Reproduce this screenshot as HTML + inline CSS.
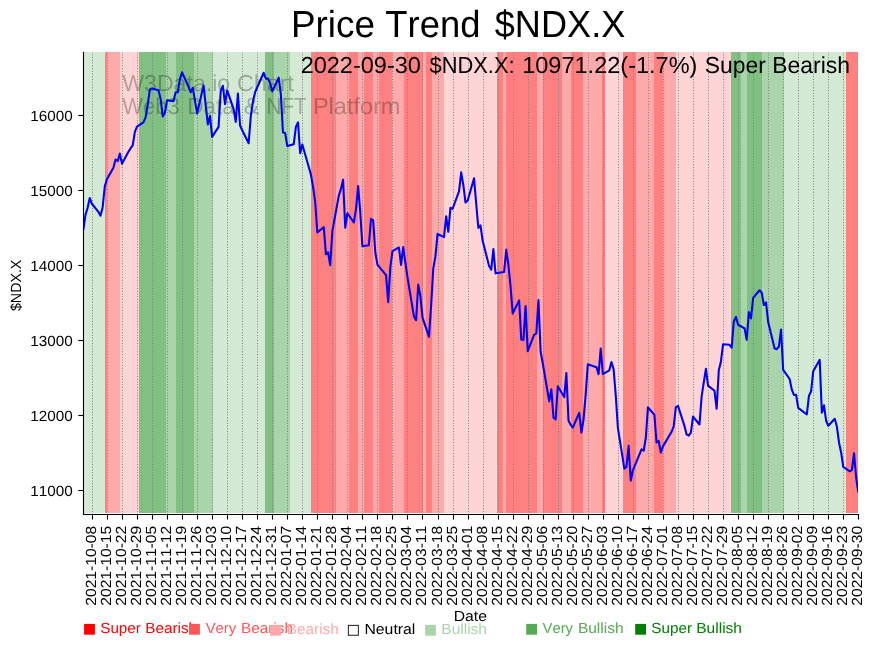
<!DOCTYPE html>
<html><head><meta charset="utf-8"><title>Price Trend $NDX.X</title>
<style>html,body{margin:0;padding:0;background:#fff}svg{display:block;will-change:transform}text{font-family:"Liberation Sans",sans-serif;font-kerning:none;white-space:pre;text-rendering:geometricPrecision}</style>
</head><body>
<svg width="875" height="646" viewBox="0 0 875 646">
<defs><clipPath id="ax"><rect x="83.5" y="52.0" width="774.5" height="462.50"/></clipPath></defs>
<rect width="875" height="646" fill="#fff"/>
<g>
<rect x="84" y="52" width="21" height="461" fill="#d4ead4"/>
<rect x="105" y="52" width="2" height="461" fill="#ff8080"/>
<rect x="107" y="52" width="13" height="461" fill="#ffaaaa"/>
<rect x="120" y="52" width="19" height="461" fill="#ffd4d4"/>
<rect x="139" y="52" width="27" height="461" fill="#80c080"/>
<rect x="166" y="52" width="10" height="461" fill="#aad4aa"/>
<rect x="176" y="52" width="18" height="461" fill="#80c080"/>
<rect x="194" y="52" width="19" height="461" fill="#aad4aa"/>
<rect x="213" y="52" width="52" height="461" fill="#d4ead4"/>
<rect x="265" y="52" width="9" height="461" fill="#80c080"/>
<rect x="274" y="52" width="16" height="461" fill="#aad4aa"/>
<rect x="290" y="52" width="21" height="461" fill="#d4ead4"/>
<rect x="311" y="52" width="25" height="461" fill="#ff8080"/>
<rect x="336" y="52" width="13" height="461" fill="#ffaaaa"/>
<rect x="349" y="52" width="9" height="461" fill="#ff8080"/>
<rect x="358" y="52" width="6" height="461" fill="#ffaaaa"/>
<rect x="364" y="52" width="9" height="461" fill="#ff8080"/>
<rect x="373" y="52" width="6" height="461" fill="#ffaaaa"/>
<rect x="379" y="52" width="13" height="461" fill="#ff8080"/>
<rect x="392" y="52" width="12" height="461" fill="#ffaaaa"/>
<rect x="404" y="52" width="19" height="461" fill="#ff8080"/>
<rect x="423" y="52" width="3" height="461" fill="#ffaaaa"/>
<rect x="426" y="52" width="6" height="461" fill="#ff8080"/>
<rect x="432" y="52" width="12" height="461" fill="#ffaaaa"/>
<rect x="444" y="52" width="53" height="461" fill="#ffd4d4"/>
<rect x="497" y="52" width="6" height="461" fill="#ff8080"/>
<rect x="503" y="52" width="3" height="461" fill="#ffaaaa"/>
<rect x="506" y="52" width="31" height="461" fill="#ff8080"/>
<rect x="537" y="52" width="6" height="461" fill="#ffaaaa"/>
<rect x="543" y="52" width="19" height="461" fill="#ff8080"/>
<rect x="562" y="52" width="9" height="461" fill="#ffaaaa"/>
<rect x="571" y="52" width="12" height="461" fill="#ff8080"/>
<rect x="583" y="52" width="19" height="461" fill="#ffaaaa"/>
<rect x="602" y="52" width="3" height="461" fill="#ff8080"/>
<rect x="605" y="52" width="18" height="461" fill="#ffd4d4"/>
<rect x="623" y="52" width="13" height="461" fill="#ff8080"/>
<rect x="636" y="52" width="18" height="461" fill="#ffaaaa"/>
<rect x="654" y="52" width="9" height="461" fill="#ff8080"/>
<rect x="663" y="52" width="13" height="461" fill="#ffaaaa"/>
<rect x="676" y="52" width="55" height="461" fill="#ffd4d4"/>
<rect x="731" y="52" width="10" height="461" fill="#80c080"/>
<rect x="741" y="52" width="6" height="461" fill="#aad4aa"/>
<rect x="747" y="52" width="15" height="461" fill="#80c080"/>
<rect x="762" y="52" width="22" height="461" fill="#aad4aa"/>
<rect x="784" y="52" width="62" height="461" fill="#d4ead4"/>
<rect x="846" y="52" width="12" height="461" fill="#ff8080"/>
</g>
<text transform="translate(122.19,91.00) scale(1.0010,1)" font-size="23.111" fill="#000" fill-opacity="0.27">W3Data.io </text>
<text transform="translate(236.96,91.00) scale(1.0075,1)" font-size="23.111" fill="#000" fill-opacity="0.27">Chart</text>
<text transform="translate(122.30,114.00) scale(0.9503,1)" font-size="23.111" fill="#000" fill-opacity="0.27">Web3 </text>
<text transform="translate(187.19,114.00) scale(0.9762,1)" font-size="23.111" fill="#000" fill-opacity="0.27">Data </text>
<text transform="translate(243.86,114.00) scale(1.0036,1)" font-size="23.111" fill="#000" fill-opacity="0.27">&amp; </text>
<text transform="translate(266.58,114.00) scale(0.8929,1)" font-size="23.111" fill="#000" fill-opacity="0.27">NFT </text>
<text transform="translate(312.90,114.00) scale(1.0172,1)" font-size="23.111" fill="#000" fill-opacity="0.27">Platform</text>
<g clip-path="url(#ax)">
<g stroke="#808080" stroke-width="1.04" stroke-dasharray="1.12 1.63" fill="none">
<line x1="92.5" y1="514.5" x2="92.5" y2="52.0"/>
<line x1="107.5" y1="514.5" x2="107.5" y2="52.0"/>
<line x1="122.5" y1="514.5" x2="122.5" y2="52.0"/>
<line x1="137.5" y1="514.5" x2="137.5" y2="52.0"/>
<line x1="152.5" y1="514.5" x2="152.5" y2="52.0"/>
<line x1="167.5" y1="514.5" x2="167.5" y2="52.0"/>
<line x1="182.5" y1="514.5" x2="182.5" y2="52.0"/>
<line x1="197.5" y1="514.5" x2="197.5" y2="52.0"/>
<line x1="212.5" y1="514.5" x2="212.5" y2="52.0"/>
<line x1="227.5" y1="514.5" x2="227.5" y2="52.0"/>
<line x1="242.5" y1="514.5" x2="242.5" y2="52.0"/>
<line x1="257.5" y1="514.5" x2="257.5" y2="52.0"/>
<line x1="272.5" y1="514.5" x2="272.5" y2="52.0"/>
<line x1="287.5" y1="514.5" x2="287.5" y2="52.0"/>
<line x1="302.5" y1="514.5" x2="302.5" y2="52.0"/>
<line x1="317.5" y1="514.5" x2="317.5" y2="52.0"/>
<line x1="332.5" y1="514.5" x2="332.5" y2="52.0"/>
<line x1="347.5" y1="514.5" x2="347.5" y2="52.0"/>
<line x1="362.5" y1="514.5" x2="362.5" y2="52.0"/>
<line x1="377.5" y1="514.5" x2="377.5" y2="52.0"/>
<line x1="392.5" y1="514.5" x2="392.5" y2="52.0"/>
<line x1="407.5" y1="514.5" x2="407.5" y2="52.0"/>
<line x1="422.5" y1="514.5" x2="422.5" y2="52.0"/>
<line x1="438.5" y1="514.5" x2="438.5" y2="52.0"/>
<line x1="453.5" y1="514.5" x2="453.5" y2="52.0"/>
<line x1="468.5" y1="514.5" x2="468.5" y2="52.0"/>
<line x1="483.5" y1="514.5" x2="483.5" y2="52.0"/>
<line x1="498.5" y1="514.5" x2="498.5" y2="52.0"/>
<line x1="513.5" y1="514.5" x2="513.5" y2="52.0"/>
<line x1="528.5" y1="514.5" x2="528.5" y2="52.0"/>
<line x1="543.5" y1="514.5" x2="543.5" y2="52.0"/>
<line x1="558.5" y1="514.5" x2="558.5" y2="52.0"/>
<line x1="573.5" y1="514.5" x2="573.5" y2="52.0"/>
<line x1="588.5" y1="514.5" x2="588.5" y2="52.0"/>
<line x1="603.5" y1="514.5" x2="603.5" y2="52.0"/>
<line x1="618.5" y1="514.5" x2="618.5" y2="52.0"/>
<line x1="633.5" y1="514.5" x2="633.5" y2="52.0"/>
<line x1="648.5" y1="514.5" x2="648.5" y2="52.0"/>
<line x1="663.5" y1="514.5" x2="663.5" y2="52.0"/>
<line x1="678.5" y1="514.5" x2="678.5" y2="52.0"/>
<line x1="693.5" y1="514.5" x2="693.5" y2="52.0"/>
<line x1="708.5" y1="514.5" x2="708.5" y2="52.0"/>
<line x1="723.5" y1="514.5" x2="723.5" y2="52.0"/>
<line x1="738.5" y1="514.5" x2="738.5" y2="52.0"/>
<line x1="753.5" y1="514.5" x2="753.5" y2="52.0"/>
<line x1="768.5" y1="514.5" x2="768.5" y2="52.0"/>
<line x1="783.5" y1="514.5" x2="783.5" y2="52.0"/>
<line x1="798.5" y1="514.5" x2="798.5" y2="52.0"/>
<line x1="813.5" y1="514.5" x2="813.5" y2="52.0"/>
<line x1="828.5" y1="514.5" x2="828.5" y2="52.0"/>
<line x1="843.5" y1="514.5" x2="843.5" y2="52.0"/>
<line x1="858.5" y1="514.5" x2="858.5" y2="52.0"/>
</g>
<polyline points="83.33,229.92 85.48,214.77 87.62,207.82 89.77,198.05 91.92,203.77 98.36,211.80 100.50,215.67 102.65,207.21 104.80,186.40 106.94,179.31 113.39,167.76 115.53,159.53 117.68,161.18 119.83,153.61 121.97,163.70 128.41,151.75 130.56,148.40 132.71,145.45 134.85,131.97 137.00,126.54 143.44,122.41 145.59,117.42 147.73,104.49 149.88,89.36 152.03,88.38 158.47,90.13 160.62,98.83 162.76,116.41 164.91,112.89 167.06,100.34 173.50,101.14 175.64,92.17 177.79,92.21 179.94,79.11 182.08,72.33 188.52,86.76 190.67,92.33 192.82,87.74 197.11,113.41 203.55,85.39 205.70,105.14 207.85,124.50 209.99,116.02 212.14,136.93 218.58,126.87 220.73,90.91 222.87,85.75 225.02,104.11 227.17,90.43 233.61,108.98 235.75,121.83 237.90,93.61 240.05,125.53 242.19,130.22 248.63,143.26 250.78,116.36 252.93,101.82 255.08,92.21 263.66,72.77 265.81,78.68 267.96,78.50 270.10,83.15 272.25,91.32 278.69,77.70 280.84,94.35 282.98,132.45 285.13,132.93 287.28,145.92 293.72,144.25 295.86,127.02 298.01,122.45 300.16,153.16 302.31,144.46 310.89,174.52 313.04,186.74 315.19,201.85 317.33,232.45 323.77,227.11 325.92,254.15 328.07,252.37 330.21,265.10 332.36,231.23 338.80,195.58 340.95,188.85 343.09,179.85 345.24,227.75 347.39,213.25 353.83,222.49 355.98,209.30 358.12,186.06 360.27,212.41 362.42,246.29 368.86,245.18 371.00,218.77 373.15,220.06 375.30,252.45 377.44,264.61 386.03,275.04 388.18,302.12 390.32,267.23 392.47,251.14 398.91,247.49 401.06,264.88 403.21,247.05 405.35,262.69 407.50,277.49 413.94,316.38 416.09,320.26 418.23,284.66 420.38,296.00 422.53,317.69 428.97,336.83 431.11,305.94 433.26,268.57 435.41,256.43 437.55,233.82 443.99,237.12 446.14,216.26 448.29,231.76 450.44,207.90 452.58,208.76 459.02,191.28 461.17,172.38 463.32,184.96 465.46,202.44 467.61,200.74 474.05,178.36 476.20,203.78 478.34,227.91 480.49,225.44 482.64,240.79 489.08,266.06 491.22,269.76 493.37,249.03 495.52,273.34 504.11,272.02 506.25,249.56 508.40,264.92 510.55,286.32 512.69,313.56 519.13,300.34 521.28,339.60 523.43,340.08 525.57,306.13 527.72,351.22 534.16,334.64 536.31,333.59 538.45,300.15 540.60,351.54 542.75,363.31 549.19,401.25 551.34,389.39 553.48,417.76 555.63,419.42 557.78,386.28 564.22,397.06 566.36,373.02 568.51,420.71 570.66,424.66 572.80,427.66 579.24,412.76 581.39,432.59 583.54,419.54 585.68,394.57 587.83,364.22 596.42,367.17 598.57,374.20 600.71,348.57 602.86,374.23 609.30,370.36 611.45,361.95 613.59,369.20 615.74,395.10 617.89,427.87 624.33,468.71 626.47,466.95 628.62,445.80 630.77,480.76 632.91,470.38 641.50,449.32 643.65,450.75 645.80,438.00 647.94,407.39 654.38,414.71 656.53,442.50 658.68,440.96 660.82,452.55 662.97,446.40 671.56,431.84 673.70,426.39 675.85,407.15 678.00,405.90 684.44,425.81 686.58,434.47 688.73,435.69 690.88,432.70 693.03,416.56 699.47,424.52 701.61,396.62 703.76,382.35 705.91,368.87 708.05,385.59 714.49,390.70 716.64,408.81 718.79,370.22 720.93,361.49 723.08,344.23 729.52,344.77 731.67,347.71 733.81,321.34 735.96,317.00 738.11,324.75 744.55,328.39 746.70,339.72 748.84,311.96 750.99,318.43 753.14,297.89 759.58,290.29 761.72,292.69 763.87,305.02 766.02,302.38 768.16,322.11 774.60,348.54 776.75,349.20 778.90,346.49 781.04,329.56 783.19,369.94 789.63,379.01 791.78,389.62 793.93,394.93 796.07,394.73 798.22,407.95 806.81,414.48 808.95,395.88 811.10,391.28 813.25,371.21 819.69,359.85 821.83,412.81 823.98,405.25 826.13,420.77 828.27,425.73 834.72,418.83 836.86,426.46 839.01,442.50 841.16,452.71 843.30,466.99 849.74,471.27 851.89,469.95 854.04,453.29 856.18,477.97 858.33,492.49" fill="none" stroke="#0000ff" stroke-width="2.08" stroke-linejoin="round" stroke-linecap="butt"/>
</g>
<g stroke="#000" stroke-width="1.1" fill="none" stroke-linecap="butt">
<line x1="83.5" y1="51.8" x2="83.5" y2="515"/>
<line x1="83" y1="514.5" x2="859" y2="514.5"/>
</g>
<g stroke="#000" stroke-width="1.1" fill="none">
<line x1="92.5" y1="514.5" x2="92.5" y2="519.6"/>
<line x1="107.5" y1="514.5" x2="107.5" y2="519.6"/>
<line x1="122.5" y1="514.5" x2="122.5" y2="519.6"/>
<line x1="137.5" y1="514.5" x2="137.5" y2="519.6"/>
<line x1="152.5" y1="514.5" x2="152.5" y2="519.6"/>
<line x1="167.5" y1="514.5" x2="167.5" y2="519.6"/>
<line x1="182.5" y1="514.5" x2="182.5" y2="519.6"/>
<line x1="197.5" y1="514.5" x2="197.5" y2="519.6"/>
<line x1="212.5" y1="514.5" x2="212.5" y2="519.6"/>
<line x1="227.5" y1="514.5" x2="227.5" y2="519.6"/>
<line x1="242.5" y1="514.5" x2="242.5" y2="519.6"/>
<line x1="257.5" y1="514.5" x2="257.5" y2="519.6"/>
<line x1="272.5" y1="514.5" x2="272.5" y2="519.6"/>
<line x1="287.5" y1="514.5" x2="287.5" y2="519.6"/>
<line x1="302.5" y1="514.5" x2="302.5" y2="519.6"/>
<line x1="317.5" y1="514.5" x2="317.5" y2="519.6"/>
<line x1="332.5" y1="514.5" x2="332.5" y2="519.6"/>
<line x1="347.5" y1="514.5" x2="347.5" y2="519.6"/>
<line x1="362.5" y1="514.5" x2="362.5" y2="519.6"/>
<line x1="377.5" y1="514.5" x2="377.5" y2="519.6"/>
<line x1="392.5" y1="514.5" x2="392.5" y2="519.6"/>
<line x1="407.5" y1="514.5" x2="407.5" y2="519.6"/>
<line x1="422.5" y1="514.5" x2="422.5" y2="519.6"/>
<line x1="438.5" y1="514.5" x2="438.5" y2="519.6"/>
<line x1="453.5" y1="514.5" x2="453.5" y2="519.6"/>
<line x1="468.5" y1="514.5" x2="468.5" y2="519.6"/>
<line x1="483.5" y1="514.5" x2="483.5" y2="519.6"/>
<line x1="498.5" y1="514.5" x2="498.5" y2="519.6"/>
<line x1="513.5" y1="514.5" x2="513.5" y2="519.6"/>
<line x1="528.5" y1="514.5" x2="528.5" y2="519.6"/>
<line x1="543.5" y1="514.5" x2="543.5" y2="519.6"/>
<line x1="558.5" y1="514.5" x2="558.5" y2="519.6"/>
<line x1="573.5" y1="514.5" x2="573.5" y2="519.6"/>
<line x1="588.5" y1="514.5" x2="588.5" y2="519.6"/>
<line x1="603.5" y1="514.5" x2="603.5" y2="519.6"/>
<line x1="618.5" y1="514.5" x2="618.5" y2="519.6"/>
<line x1="633.5" y1="514.5" x2="633.5" y2="519.6"/>
<line x1="648.5" y1="514.5" x2="648.5" y2="519.6"/>
<line x1="663.5" y1="514.5" x2="663.5" y2="519.6"/>
<line x1="678.5" y1="514.5" x2="678.5" y2="519.6"/>
<line x1="693.5" y1="514.5" x2="693.5" y2="519.6"/>
<line x1="708.5" y1="514.5" x2="708.5" y2="519.6"/>
<line x1="723.5" y1="514.5" x2="723.5" y2="519.6"/>
<line x1="738.5" y1="514.5" x2="738.5" y2="519.6"/>
<line x1="753.5" y1="514.5" x2="753.5" y2="519.6"/>
<line x1="768.5" y1="514.5" x2="768.5" y2="519.6"/>
<line x1="783.5" y1="514.5" x2="783.5" y2="519.6"/>
<line x1="798.5" y1="514.5" x2="798.5" y2="519.6"/>
<line x1="813.5" y1="514.5" x2="813.5" y2="519.6"/>
<line x1="828.5" y1="514.5" x2="828.5" y2="519.6"/>
<line x1="843.5" y1="514.5" x2="843.5" y2="519.6"/>
<line x1="858.5" y1="514.5" x2="858.5" y2="519.6"/>
<line x1="83.5" y1="115.5" x2="78.3" y2="115.5"/>
<line x1="83.5" y1="190.5" x2="78.3" y2="190.5"/>
<line x1="83.5" y1="265.5" x2="78.3" y2="265.5"/>
<line x1="83.5" y1="340.5" x2="78.3" y2="340.5"/>
<line x1="83.5" y1="415.5" x2="78.3" y2="415.5"/>
<line x1="83.5" y1="490.5" x2="78.3" y2="490.5"/>
</g>
<text transform="translate(30.34,121.00) scale(1.0380,1)" font-size="14.710" fill="#000">16000</text>
<text transform="translate(30.34,196.00) scale(1.0380,1)" font-size="14.710" fill="#000">15000</text>
<text transform="translate(30.34,271.00) scale(1.0380,1)" font-size="14.710" fill="#000">14000</text>
<text transform="translate(30.34,346.00) scale(1.0380,1)" font-size="14.710" fill="#000">13000</text>
<text transform="translate(30.34,421.00) scale(1.0380,1)" font-size="14.710" fill="#000">12000</text>
<text transform="translate(30.34,496.00) scale(1.0380,1)" font-size="14.710" fill="#000">11000</text>
<text transform="translate(21.00,311.05) rotate(-90) scale(0.9672,1)" font-size="14.710" fill="#000">$NDX.X</text>
<text transform="translate(96.10,605.69) rotate(-90) scale(1.0614,1)" font-size="14.710" fill="#000">2021-10-08</text>
<text transform="translate(111.10,605.68) rotate(-90) scale(1.0611,1)" font-size="14.710" fill="#000">2021-10-15</text>
<text transform="translate(126.10,605.69) rotate(-90) scale(1.0629,1)" font-size="14.710" fill="#000">2021-10-22</text>
<text transform="translate(141.10,605.69) rotate(-90) scale(1.0622,1)" font-size="14.710" fill="#000">2021-10-29</text>
<text transform="translate(156.10,605.68) rotate(-90) scale(1.0611,1)" font-size="14.710" fill="#000">2021-11-05</text>
<text transform="translate(171.10,605.69) rotate(-90) scale(1.0629,1)" font-size="14.710" fill="#000">2021-11-12</text>
<text transform="translate(186.10,605.69) rotate(-90) scale(1.0622,1)" font-size="14.710" fill="#000">2021-11-19</text>
<text transform="translate(201.10,605.69) rotate(-90) scale(1.0615,1)" font-size="14.710" fill="#000">2021-11-26</text>
<text transform="translate(216.10,605.69) rotate(-90) scale(1.0615,1)" font-size="14.710" fill="#000">2021-12-03</text>
<text transform="translate(231.10,605.68) rotate(-90) scale(1.0605,1)" font-size="14.710" fill="#000">2021-12-10</text>
<text transform="translate(246.10,605.69) rotate(-90) scale(1.0629,1)" font-size="14.710" fill="#000">2021-12-17</text>
<text transform="translate(261.10,605.68) rotate(-90) scale(1.0584,1)" font-size="14.710" fill="#000">2021-12-24</text>
<text transform="translate(276.10,605.69) rotate(-90) scale(1.0625,1)" font-size="14.710" fill="#000">2021-12-31</text>
<text transform="translate(291.10,605.69) rotate(-90) scale(1.0629,1)" font-size="14.710" fill="#000">2022-01-07</text>
<text transform="translate(306.10,605.68) rotate(-90) scale(1.0584,1)" font-size="14.710" fill="#000">2022-01-14</text>
<text transform="translate(321.10,605.69) rotate(-90) scale(1.0625,1)" font-size="14.710" fill="#000">2022-01-21</text>
<text transform="translate(336.10,605.69) rotate(-90) scale(1.0614,1)" font-size="14.710" fill="#000">2022-01-28</text>
<text transform="translate(351.10,605.68) rotate(-90) scale(1.0584,1)" font-size="14.710" fill="#000">2022-02-04</text>
<text transform="translate(366.10,605.69) rotate(-90) scale(1.0625,1)" font-size="14.710" fill="#000">2022-02-11</text>
<text transform="translate(381.10,605.69) rotate(-90) scale(1.0614,1)" font-size="14.710" fill="#000">2022-02-18</text>
<text transform="translate(396.10,605.68) rotate(-90) scale(1.0611,1)" font-size="14.710" fill="#000">2022-02-25</text>
<text transform="translate(411.10,605.68) rotate(-90) scale(1.0584,1)" font-size="14.710" fill="#000">2022-03-04</text>
<text transform="translate(426.10,605.69) rotate(-90) scale(1.0625,1)" font-size="14.710" fill="#000">2022-03-11</text>
<text transform="translate(442.10,605.69) rotate(-90) scale(1.0614,1)" font-size="14.710" fill="#000">2022-03-18</text>
<text transform="translate(457.10,605.68) rotate(-90) scale(1.0611,1)" font-size="14.710" fill="#000">2022-03-25</text>
<text transform="translate(472.10,605.69) rotate(-90) scale(1.0625,1)" font-size="14.710" fill="#000">2022-04-01</text>
<text transform="translate(487.10,605.69) rotate(-90) scale(1.0614,1)" font-size="14.710" fill="#000">2022-04-08</text>
<text transform="translate(502.10,605.68) rotate(-90) scale(1.0611,1)" font-size="14.710" fill="#000">2022-04-15</text>
<text transform="translate(517.10,605.69) rotate(-90) scale(1.0629,1)" font-size="14.710" fill="#000">2022-04-22</text>
<text transform="translate(532.10,605.69) rotate(-90) scale(1.0622,1)" font-size="14.710" fill="#000">2022-04-29</text>
<text transform="translate(547.10,605.69) rotate(-90) scale(1.0615,1)" font-size="14.710" fill="#000">2022-05-06</text>
<text transform="translate(562.10,605.69) rotate(-90) scale(1.0615,1)" font-size="14.710" fill="#000">2022-05-13</text>
<text transform="translate(577.10,605.68) rotate(-90) scale(1.0605,1)" font-size="14.710" fill="#000">2022-05-20</text>
<text transform="translate(592.10,605.69) rotate(-90) scale(1.0629,1)" font-size="14.710" fill="#000">2022-05-27</text>
<text transform="translate(607.10,605.69) rotate(-90) scale(1.0615,1)" font-size="14.710" fill="#000">2022-06-03</text>
<text transform="translate(622.10,605.68) rotate(-90) scale(1.0605,1)" font-size="14.710" fill="#000">2022-06-10</text>
<text transform="translate(637.10,605.69) rotate(-90) scale(1.0629,1)" font-size="14.710" fill="#000">2022-06-17</text>
<text transform="translate(652.10,605.68) rotate(-90) scale(1.0584,1)" font-size="14.710" fill="#000">2022-06-24</text>
<text transform="translate(667.10,605.69) rotate(-90) scale(1.0625,1)" font-size="14.710" fill="#000">2022-07-01</text>
<text transform="translate(682.10,605.69) rotate(-90) scale(1.0614,1)" font-size="14.710" fill="#000">2022-07-08</text>
<text transform="translate(697.10,605.68) rotate(-90) scale(1.0611,1)" font-size="14.710" fill="#000">2022-07-15</text>
<text transform="translate(712.10,605.69) rotate(-90) scale(1.0629,1)" font-size="14.710" fill="#000">2022-07-22</text>
<text transform="translate(727.10,605.69) rotate(-90) scale(1.0622,1)" font-size="14.710" fill="#000">2022-07-29</text>
<text transform="translate(742.10,605.68) rotate(-90) scale(1.0611,1)" font-size="14.710" fill="#000">2022-08-05</text>
<text transform="translate(757.10,605.69) rotate(-90) scale(1.0629,1)" font-size="14.710" fill="#000">2022-08-12</text>
<text transform="translate(772.10,605.69) rotate(-90) scale(1.0622,1)" font-size="14.710" fill="#000">2022-08-19</text>
<text transform="translate(787.10,605.69) rotate(-90) scale(1.0615,1)" font-size="14.710" fill="#000">2022-08-26</text>
<text transform="translate(802.10,605.69) rotate(-90) scale(1.0629,1)" font-size="14.710" fill="#000">2022-09-02</text>
<text transform="translate(817.10,605.69) rotate(-90) scale(1.0622,1)" font-size="14.710" fill="#000">2022-09-09</text>
<text transform="translate(832.10,605.69) rotate(-90) scale(1.0615,1)" font-size="14.710" fill="#000">2022-09-16</text>
<text transform="translate(847.10,605.69) rotate(-90) scale(1.0615,1)" font-size="14.710" fill="#000">2022-09-23</text>
<text transform="translate(862.10,605.68) rotate(-90) scale(1.0605,1)" font-size="14.710" fill="#000">2022-09-30</text>
<text transform="translate(453.71,621.00) scale(1.0681,1)" font-size="14.710" fill="#000">Date</text>
<text transform="translate(290.88,37.00) scale(0.9808,1)" font-size="37.646" fill="#000">Price </text>
<text transform="translate(385.32,37.00) scale(0.9671,1)" font-size="37.646" fill="#000">Trend </text>
<text transform="translate(494.77,37.00) scale(0.9603,1)" font-size="37.646" fill="#000">$NDX.X</text>
<text transform="translate(300.64,73.00) scale(1.0173,1)" font-size="23.111" fill="#000">2022-09-30 </text>
<text transform="translate(429.49,73.00) scale(0.9470,1)" font-size="23.111" fill="#000">$NDX.X: </text>
<text transform="translate(522.18,73.00) scale(1.0181,1)" font-size="23.111" fill="#000">10971.22(-1.7%) </text>
<text transform="translate(704.75,73.00) scale(0.9904,1)" font-size="23.111" fill="#000">Super </text>
<text transform="translate(772.23,73.00) scale(0.9935,1)" font-size="23.111" fill="#000">Bearish</text>
<rect x="84.10" y="623.90" width="10.8" height="10.8" fill="#ff0000"/>
<text transform="translate(100.21,633.00) scale(1.0374,1)" font-size="14.710" fill="#ff0000">Super </text>
<text transform="translate(145.20,633.00) scale(1.0406,1)" font-size="14.710" fill="#ff0000">Bearish</text>
<rect x="189.10" y="623.90" width="10.8" height="10.8" fill="#ff5555"/>
<text transform="translate(205.63,633.00) scale(1.0075,1)" font-size="14.710" fill="#ff5555">Very </text>
<text transform="translate(241.01,633.00) scale(1.0406,1)" font-size="14.710" fill="#ff5555">Bearish</text>
<rect x="270.10" y="624.90" width="10.8" height="10.8" fill="#ffaaaa"/>
<text transform="translate(286.84,634.00) scale(1.0406,1)" font-size="14.710" fill="#ffaaaa">Bearish</text>
<rect x="348.35" y="625.35" width="10.0" height="9.9" fill="#fff" stroke="#111" stroke-width="0.95"/>
<text transform="translate(364.40,634.00) scale(1.0745,1)" font-size="14.710" fill="#000000">Neutral</text>
<rect x="425.10" y="624.90" width="10.8" height="10.8" fill="#aad4aa"/>
<text transform="translate(441.33,634.00) scale(1.0542,1)" font-size="14.710" fill="#aad4aa">Bullish</text>
<rect x="526.20" y="623.90" width="10.8" height="10.8" fill="#55aa55"/>
<text transform="translate(542.53,633.00) scale(1.0075,1)" font-size="14.710" fill="#55aa55">Very </text>
<text transform="translate(577.90,633.00) scale(1.0542,1)" font-size="14.710" fill="#55aa55">Bullish</text>
<rect x="635.20" y="623.90" width="10.8" height="10.8" fill="#008000"/>
<text transform="translate(651.31,633.00) scale(1.0374,1)" font-size="14.710" fill="#008000">Super </text>
<text transform="translate(696.28,633.00) scale(1.0542,1)" font-size="14.710" fill="#008000">Bullish</text>
</svg>
</body></html>
